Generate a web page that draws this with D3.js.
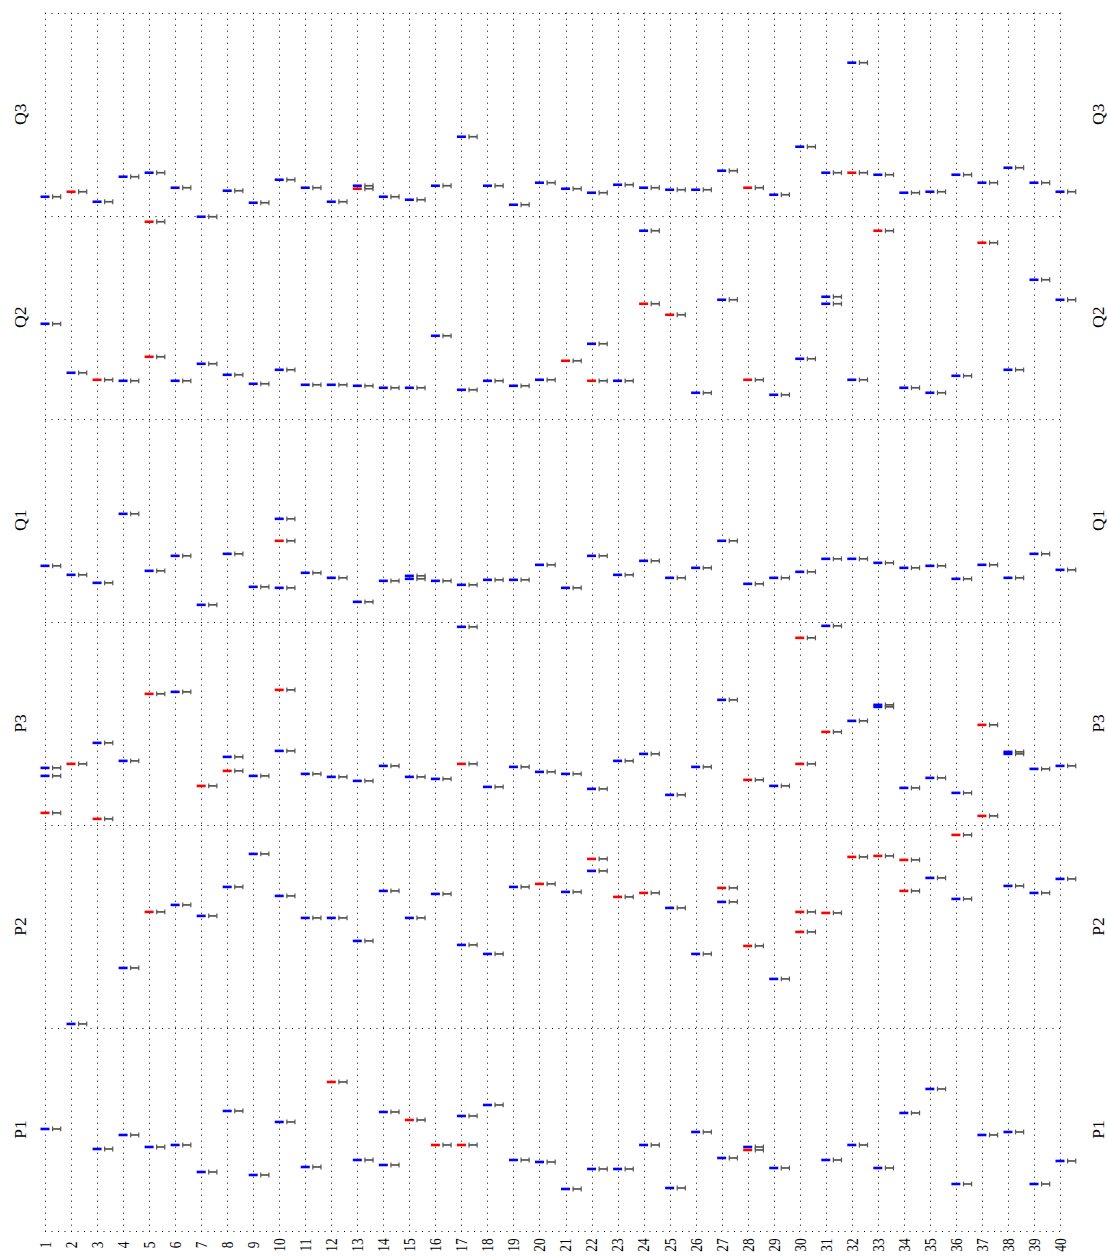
<!DOCTYPE html>
<html>
<head>
<meta charset="utf-8">
<script src="https://cdn.jsdelivr.net/npm/d3@7"></script>
<style>
  html, body { margin: 0; padding: 0; background: #fff; }
  svg { display: block; }
  text { font-family: "Liberation Serif", "DejaVu Serif", serif; fill: #000; }
</style>
</head>
<body>
<svg id="chart" width="1107" height="1259"></svg>
<script>
// Sample index along the horizontal axis
const columns = d3.range(1, 41);
// Panels, top to bottom
const panelNames = ["Q3", "Q2", "Q1", "P3", "P2", "P1"];

// Scores per panel as [sample, score]; blue and red groups
const q3Blue = [[1,19],[3,14],[4,39],[5,43],[6,28],[8,25],[9,13],[10,36],[11,28],[12,14],[13,30],[14,19],[15,16],[16,30],[17,79],[18,30],[19,11],[20,33],[21,27],[22,23],[23,31],[24,28],[25,26],[26,26],[27,45],[29,21],[30,69],[31,43],[32,153],[33,41],[34,23],[35,24],[36,41],[37,33],[38,48],[39,33],[40,24]];
const q3Red = [[2,24],[13,27],[28,28],[32,43]];

const q2Blue = [[1,95],[2,46],[4,38],[6,38],[7,55],[7,202],[8,44],[9,35],[10,49],[11,34],[12,34],[13,33],[14,31],[15,31],[16,83],[17,29],[18,38],[19,33],[20,39],[22,75],[23,38],[24,188],[26,26],[27,119],[29,24],[30,60],[31,122],[31,115],[32,39],[34,31],[35,26],[36,43],[38,49],[39,139],[40,119]];
const q2Red = [[3,39],[5,62],[5,197],[21,58],[22,38],[24,115],[25,104],[28,39],[33,188],[37,176]];

const q1Blue = [[1,56],[2,47],[3,39],[4,108],[5,51],[6,66],[7,17],[8,68],[9,35],[10,103],[10,34],[11,49],[12,44],[13,20],[14,41],[15,46],[15,43],[16,41],[17,37],[18,42],[19,42],[20,57],[21,34],[22,66],[23,47],[24,61],[25,44],[26,54],[27,81],[28,38],[29,44],[30,50],[31,63],[32,63],[33,59],[34,54],[35,56],[36,43],[37,57],[38,44],[39,68],[40,52]];
const q1Red = [[10,81]];

const p3Blue = [[1,57],[1,49],[3,82],[4,64],[6,133],[8,68],[9,49],[10,74],[11,51],[12,48],[13,44],[14,59],[15,48],[16,46],[17,198],[18,38],[19,58],[20,53],[21,51],[22,36],[23,64],[24,71],[25,30],[26,58],[27,125],[29,39],[31,199],[32,104],[33,120],[33,118],[34,37],[35,47],[36,32],[38,73],[38,71],[39,56],[40,59]];
const p3Red = [[1,12],[2,61],[3,6],[5,131],[7,39],[8,54],[10,135],[17,61],[28,45],[30,187],[30,61],[31,93],[37,100],[37,9]];

const p2Blue = [[2,4],[4,60],[6,123],[7,112],[8,141],[9,174],[10,132],[11,110],[12,110],[13,87],[14,137],[15,110],[16,134],[17,83],[18,74],[19,141],[21,136],[22,157],[25,120],[26,74],[27,126],[29,49],[35,150],[36,129],[38,142],[39,135],[40,149]];
const p2Red = [[5,116],[20,144],[22,169],[23,131],[24,135],[27,140],[28,82],[30,116],[30,96],[31,115],[32,171],[33,172],[34,168],[34,137],[36,193]];

const p1Blue = [[1,102],[3,82],[4,96],[5,84],[6,86],[7,59],[8,120],[9,56],[10,109],[11,64],[13,71],[14,119],[14,66],[17,115],[18,126],[19,71],[20,69],[21,42],[22,62],[23,62],[24,86],[25,43],[26,99],[27,73],[28,84],[29,63],[31,71],[32,86],[33,63],[34,118],[35,142],[36,47],[37,96],[38,99],[39,47],[40,70]];
const p1Red = [[12,149],[15,111],[16,86],[17,86],[28,81]];

const scoreMax = 203;
const groupColors = { blue: "#0000ff", red: "#ff0000" };

const panelSeries = {
  Q3: { blue: q3Blue, red: q3Red },
  Q2: { blue: q2Blue, red: q2Red },
  Q1: { blue: q1Blue, red: q1Red },
  P3: { blue: p3Blue, red: p3Red },
  P2: { blue: p2Blue, red: p2Red },
  P1: { blue: p1Blue, red: p1Red }
};

const svg = d3.select("#chart");
const plotLeft = 45, plotRight = 1060, plotTop = 12.7, plotBottom = 1231;

const x = d3.scalePoint().domain(columns).range([plotLeft, plotRight]);
const panel = d3.scaleBand().domain(panelNames).range([plotTop, plotBottom]).padding(0);
const crisp = v => Math.round(v) + 0.5;

// Dotted grid: one vertical rule per sample, panel borders horizontally
const grid = svg.append("g")
  .attr("stroke", "#000")
  .attr("stroke-width", 1)
  .attr("fill", "none");

grid.selectAll("line.v").data(columns).join("line")
  .attr("class", "v")
  .attr("stroke-dasharray", "1 5")
  .attr("x1", d => crisp(x(d))).attr("x2", d => crisp(x(d)))
  .attr("y1", plotTop).attr("y2", plotBottom);

const borders = panelNames.map(p => panel(p)).concat([plotBottom]);
grid.selectAll("line.h").data(borders).join("line")
  .attr("class", "h")
  .attr("stroke-dasharray", "1 5.5")
  .attr("x1", plotLeft).attr("x2", plotRight + 1)
  .attr("y1", d => crisp(d)).attr("y2", d => crisp(d));

// Marks: coloured dash on the sample rule and a capped grey bar beside it
panelNames.forEach(name => {
  const top = panel(name), bottom = top + panel.bandwidth();
  const y = d3.scaleLinear().domain([0, scoreMax]).range([bottom, top]);
  const g = svg.append("g");
  const rows = [];
  ["blue", "red"].forEach(group => {
    panelSeries[name][group].forEach(([c, v]) => rows.push({ c, v, group }));
  });

  const err = g.selectAll("g.err").data(rows).join("g")
    .attr("class", "err")
    .attr("transform", d => `translate(${x(d.c)},${y(d.v)})`)
    .attr("stroke", "#555")
    .attr("fill", "none");
  err.append("line").attr("x1", 7.5).attr("x2", 15.8).attr("y1", 0).attr("y2", 0).attr("stroke-width", 1.7);
  err.append("line").attr("x1", 7.6).attr("x2", 7.6).attr("y1", -2.4).attr("y2", 2.4).attr("stroke-width", 1.2);
  err.append("line").attr("x1", 15.7).attr("x2", 15.7).attr("y1", -2.4).attr("y2", 2.4).attr("stroke-width", 1.2);

  g.selectAll("rect.mark").data(rows).join("rect")
    .attr("class", "mark")
    .attr("x", d => x(d.c) - 4.5)
    .attr("y", d => y(d.v) - 1.3)
    .attr("width", 9)
    .attr("height", 2.6)
    .attr("fill", d => groupColors[d.group]);

  // Panel names on both sides
  const cy = top + panel.bandwidth() / 2;
  [19.7, 1097.5].forEach(px => {
    svg.append("text")
      .attr("transform", `translate(${px},${cy}) rotate(-90)`)
      .attr("text-anchor", "middle")
      .attr("dominant-baseline", "central")
      .attr("font-size", 17.5)
      .text(name);
  });
});

// Sample labels along the bottom
const xAxis = d3.axisBottom(x).tickSize(0).tickPadding(0);
const axisG = svg.append("g").attr("transform", `translate(0,${plotBottom})`).call(xAxis);
axisG.select(".domain").remove();
axisG.selectAll("text")
  .attr("transform", "translate(0,14) rotate(-90) scale(0.95,1.12)")
  .attr("y", 0)
  .attr("dy", null)
  .attr("text-anchor", "middle")
  .attr("dominant-baseline", "central")
  .attr("font-family", "Liberation Serif, DejaVu Serif, serif")
  .attr("font-size", 14)
  .attr("fill", "#000");
</script>
</body>
</html>
